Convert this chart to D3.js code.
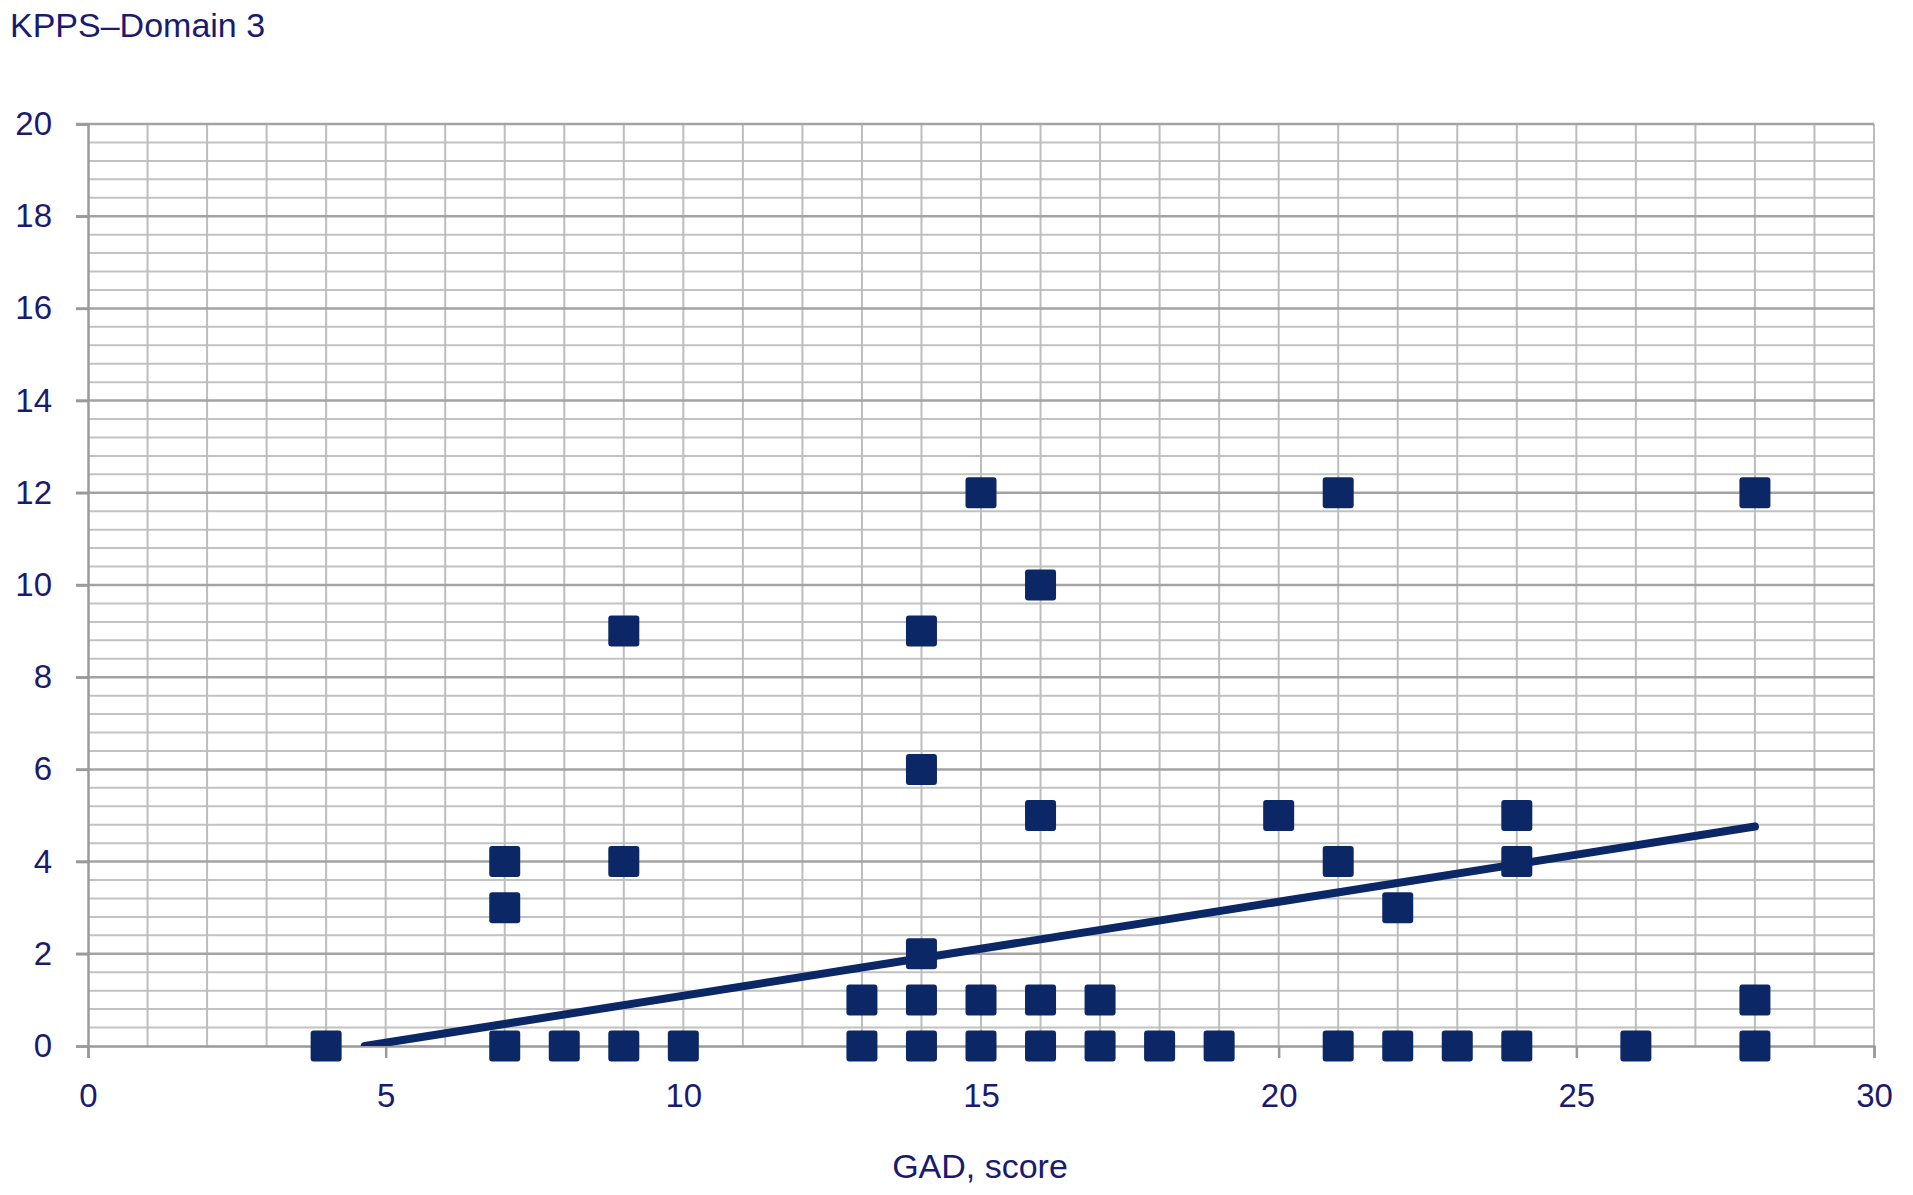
<!DOCTYPE html>
<html>
<head>
<meta charset="utf-8">
<script src="https://cdn.jsdelivr.net/npm/d3@7"></script>
<style>
  body { margin: 0; background: #fff; }
  text { font-family: "Liberation Sans", Arial, sans-serif; fill: #1a1a6e; }
</style>
</head>
<body>
<div id="chart"></div>
<script>
// GAD score vs KPPS domain 3
const gadScores = [4, 7, 7, 7, 8, 9, 9, 9, 10, 13, 13, 14, 14, 14, 14, 14, 15, 15, 15, 16, 16, 16, 16, 17, 17, 18, 19, 20, 21, 21, 21, 22, 22, 23, 24, 24, 24, 26, 28, 28, 28];
const kppsValues = [0, 0, 3, 4, 0, 0, 4, 9, 0, 0, 1, 0, 1, 2, 6, 9, 0, 1, 12, 0, 1, 5, 10, 0, 1, 0, 0, 5, 0, 4, 12, 0, 3, 0, 0, 4, 5, 0, 0, 1, 12];
// linear trend line ends
const trendX = [4.65, 28];
const trendY = [0, 4.76];
const xTicks = [0, 5, 10, 15, 20, 25, 30];
const yTicks = [0, 2, 4, 6, 8, 10, 12, 14, 16, 18, 20];

const width = 1913, height = 1195;
const plotLeft = 88, plotRight = 1874, plotTop = 124, plotBottom = 1046;

const svg = d3.select('#chart').append('svg')
  .attr('width', width)
  .attr('height', height);

const xScale = d3.scaleLinear().domain([0, 30]).range([plotLeft, plotRight]);
const yScale = d3.scaleLinear().domain([0, 20]).range([plotBottom, plotTop]);

// minor horizontal grid every 0.4
const minorY = d3.range(0, 20.01, 0.4).filter(v => Math.abs(v / 2 - Math.round(v / 2)) > 0.01);
svg.append('g').selectAll('line')
  .data(minorY)
  .enter().append('line')
  .attr('x1', plotLeft).attr('x2', plotRight)
  .attr('y1', d => yScale(d)).attr('y2', d => yScale(d))
  .attr('stroke', '#c2c2c2')
  .attr('stroke-width', 2);

// vertical grid every 1
svg.append('g').selectAll('line')
  .data(d3.range(1, 31))
  .enter().append('line')
  .attr('x1', d => xScale(d)).attr('x2', d => xScale(d))
  .attr('y1', plotTop).attr('y2', plotBottom)
  .attr('stroke', '#bdbdbd')
  .attr('stroke-width', 2);

// major horizontal grid
svg.append('g').selectAll('line')
  .data(yTicks.filter(d => d > 0))
  .enter().append('line')
  .attr('x1', plotLeft - 12).attr('x2', plotRight)
  .attr('y1', d => yScale(d)).attr('y2', d => yScale(d))
  .attr('stroke', '#a3a3a3')
  .attr('stroke-width', 2.5);

// y axis
const yAxis = svg.append('g')
  .attr('transform', `translate(${plotLeft},0)`)
  .call(d3.axisLeft(yScale).tickValues(yTicks).tickSize(12).tickPadding(20));
yAxis.select('.domain').attr('stroke', '#9a9a9a').attr('stroke-width', 2.5);
yAxis.selectAll('.tick line').attr('stroke', '#9a9a9a').attr('stroke-width', 2.5);
yAxis.selectAll('.tick text')
  .style('font-size', '33px')
  .attr('fill', '#1a1a6e')
  .attr('x', -36);

// x axis
const xAxis = svg.append('g')
  .attr('transform', `translate(0,${plotBottom})`)
  .call(d3.axisBottom(xScale).tickValues(xTicks).tickSize(12).tickPadding(26));
xAxis.select('.domain').attr('stroke', '#9a9a9a').attr('stroke-width', 2.5);
xAxis.selectAll('.tick line').attr('stroke', '#9a9a9a').attr('stroke-width', 2.5);
xAxis.selectAll('.tick text')
  .style('font-size', '33px')
  .attr('fill', '#1a1a6e');

// trend line, clipped at the x axis
svg.append('clipPath').attr('id', 'plotclip')
  .append('rect')
  .attr('x', plotLeft).attr('y', plotTop)
  .attr('width', plotRight - plotLeft).attr('height', plotBottom - plotTop);

const trendLine = d3.line()
  .x(d => xScale(d[0]))
  .y(d => yScale(d[1]));

svg.append('path')
  .datum(d3.zip(trendX, trendY))
  .attr('clip-path', 'url(#plotclip)')
  .attr('fill', 'none')
  .attr('stroke', '#0c2766')
  .attr('stroke-width', 8)
  .attr('stroke-linecap', 'round')
  .attr('d', trendLine);

// square markers
const points = d3.zip(gadScores, kppsValues);
const size = 31;
svg.append('g').selectAll('rect')
  .data(points)
  .enter().append('rect')
  .attr('x', d => xScale(d[0]) - size / 2)
  .attr('y', d => yScale(d[1]) - size / 2)
  .attr('width', size)
  .attr('height', size)
  .attr('rx', 3)
  .attr('fill', '#0c2766');

// labels
svg.append('text')
  .attr('x', 10)
  .attr('y', 37)
  .style('font-size', '34px')
  .text('KPPS–Domain 3');

svg.append('text')
  .attr('x', 980)
  .attr('y', 1178)
  .attr('text-anchor', 'middle')
  .style('font-size', '34px')
  .text('GAD, score');
</script>
</body>
</html>
